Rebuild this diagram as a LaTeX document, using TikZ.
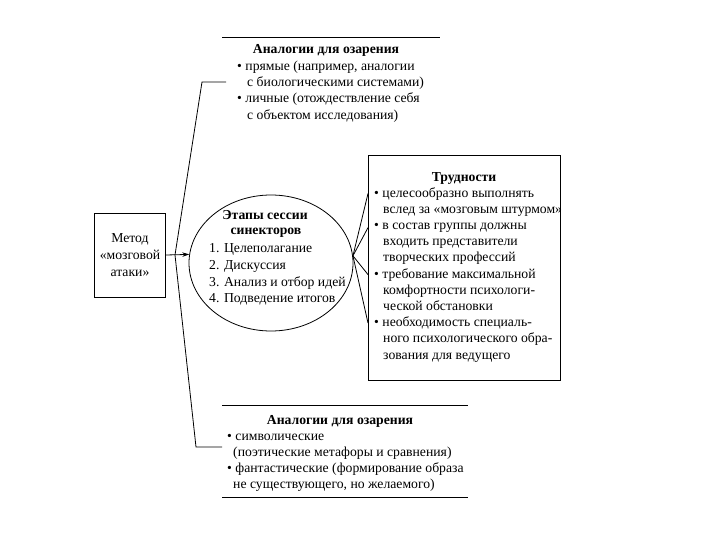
\documentclass[tikz,border=0pt]{standalone}
\usepackage{fontspec}
\setmainfont{Liberation Serif}
\usetikzlibrary{shapes.geometric,arrows.meta}
\begin{document}
\begin{tikzpicture}[x=1pt,y=-1pt,
  every node/.style={inner sep=0pt},
  txt/.style={font=\fontsize{13.7}{16}\selectfont, anchor=base west},
  ctxt/.style={font=\fontsize{13.7}{16}\selectfont, anchor=base},
  hdr/.style={font=\bfseries\fontsize{13.7}{16}\selectfont, anchor=base},
  ln/.style={line width=0.8pt},
  frame/.style={draw, line width=0.9pt}]
\useasboundingbox (0,0) rectangle (720,540);

% ---------- left box ----------
\node[frame, minimum width=71, minimum height=84] (metod) at (130,255) {};
\node[ctxt] (m1) at (130,242) {Метод};
\node[ctxt] (m2) at (130,259) {«мозговой};
\node[ctxt] (m3) at (130,276) {атаки»};

% ---------- ellipse ----------
\node[draw, ln, ellipse, minimum width=164, minimum height=136] (etapy) at (271,263) {};
\node[hdr] (e1) at (265,219) {Этапы сессии};
\node[hdr] (e2) at (266,234.5) {синекторов};
\node[txt] (e3) at (209,252) {1. Целеполагание};
\node[txt] (e4) at (209,269) {2. Дискуссия};
\node[txt] (e5) at (209,286) {3. Анализ и отбор идей};
\node[txt] (e6) at (209,302.5) {4. Подведение итогов};

\draw[ln, -{Stealth[length=7pt,width=4.5pt]}] (metod.east) -- (etapy.174);

% ---------- left polyline ----------
\coordinate (j) at (175,255);
\coordinate (tc) at (202,82);
\coordinate (te) at (226,82);
\coordinate (bc) at (196,447);
\coordinate (be) at (222,447);
\draw[ln] (te) -- (tc) -- (j) -- (bc) -- (be);

% ---------- top block ----------
\coordinate (tl1) at (222,37);
\coordinate (tl2) at (440,37);
\draw[ln] (tl1) -- (tl2);
\node[hdr] (th) at (326,54) {Аналогии для озарения};
\node[txt] (t1) at (237,70.3) {• прямые (например, аналогии};
\node[txt] (t2) at (247,86.6) {с биологическими системами)};
\node[txt] (t3) at (237,103) {• личные (отождествление себя};
\node[txt] (t4) at (247,119.3) {с объектом исследования)};

% ---------- bottom block ----------
\coordinate (bl1) at (222,405);
\coordinate (bl2) at (468,405);
\coordinate (bl3) at (222,497);
\coordinate (bl4) at (468,497);
\draw[ln] (bl1) -- (bl2);
\draw[ln] (bl3) -- (bl4);
\node[hdr] (bh) at (340,424) {Аналогии для озарения};
\node[txt] (b1) at (227,440) {• символические};
\node[txt] (b2) at (233,456) {(поэтические метафоры и сравнения)};
\node[txt] (b3) at (227,472) {• фантастические (формирование образа};
\node[txt] (b4) at (233,488) {не существующего, но желаемого)};

% ---------- right box ----------
\node[frame, minimum width=192, minimum height=225, anchor=north west] (trud) at (368,155) {};
\node[hdr] (rh) at (464,182) {Трудности};
\node[txt] (r1) at (374,197) {• целесообразно выполнять};
\node[txt] (r2) at (383,213.2) {вслед за «мозговым штурмом»};
\node[txt] (r3) at (374,229.4) {• в состав группы должны};
\node[txt] (r4) at (383,245.6) {входить представители};
\node[txt] (r5) at (383,261.8) {творческих профессий};
\node[txt] (r6) at (374,278) {• требование максимальной};
\node[txt] (r7) at (383,294.2) {комфортности психологи-};
\node[txt] (r8) at (383,310.4) {ческой обстановки};
\node[txt] (r9) at (374,326.6) {• необходимость специаль-};
\node[txt] (r10) at (383,342.8) {ного психологического обра-};
\node[txt] (r11) at (383,359) {зования для ведущего};

% ---------- fan to right box ----------
\coordinate (rj) at (etapy.5);
\draw[ln] (rj) -- (trud.west |- r1.center);
\draw[ln] (rj) -- (trud.west |- r3.center);
\draw[ln] (rj) -- (trud.west |- r6.center);
\draw[ln] (rj) -- (trud.west |- r9.center);
\end{tikzpicture}
\end{document}
